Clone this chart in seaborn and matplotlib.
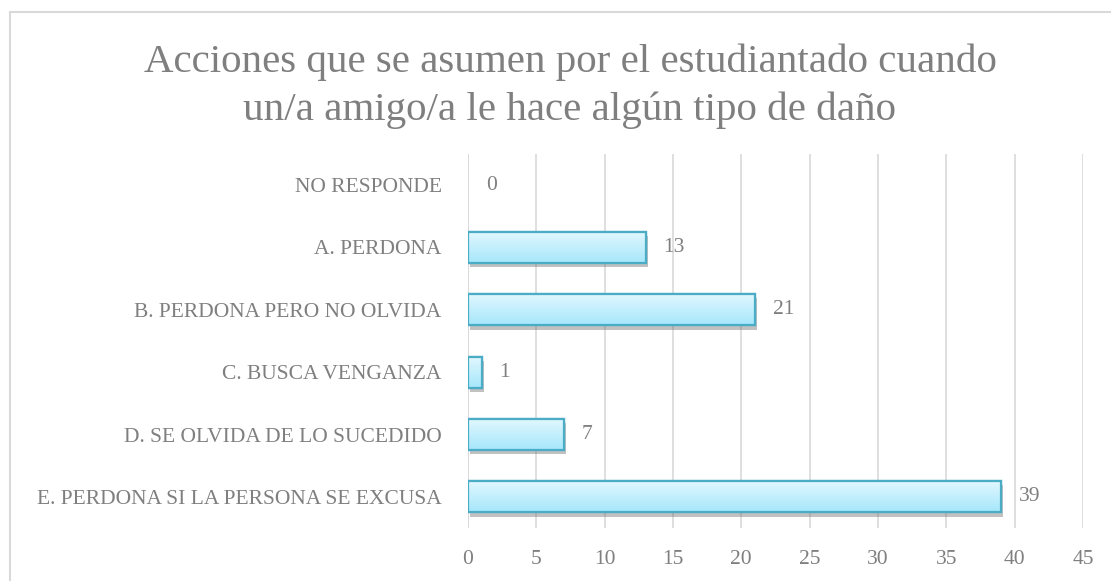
import numpy as np
import pandas as pd
import matplotlib
matplotlib.use('Agg')
import matplotlib.pyplot as plt
import matplotlib.patheffects as pe
from matplotlib.patches import Rectangle
import seaborn as sns

# Data
categories = ['NO RESPONDE', 'A. PERDONA', 'B. PERDONA PERO NO OLVIDA',
              'C. BUSCA VENGANZA', 'D. SE OLVIDA DE LO SUCEDIDO',
              'E. PERDONA SI LA PERSONA SE EXCUSA']
values = [0, 13, 21, 1, 7, 39]
x_ticks = [0, 5, 10, 15, 20, 25, 30, 35, 40, 45]
title = 'Acciones que se asumen por el estudiantado cuando\nun/a amigo/a le hace algún tipo de daño'

df = pd.DataFrame({'categoria': categories, 'valor': values})

sns.set_style('white')
plt.rcParams['font.family'] = ['Liberation Serif', 'DejaVu Serif']
gray = '#7f7f7f'

fig = plt.figure(figsize=(11.11, 5.81), dpi=100)
ax = fig.add_axes([0.4212, 0.0912, 0.5536, 0.6438])

sns.barplot(data=df, x='valor', y='categoria', order=categories, orient='h',
            width=0.5, color='#c4f0fc', edgecolor='#4bacc6', linewidth=1.6, ax=ax)

# gradient fill + shadow on each bar
grad = np.linspace(0, 1, 64).reshape(-1, 1)
cmap = matplotlib.colors.LinearSegmentedColormap.from_list('g', ['#e2f8fe', '#a6e7fb'])
for p in ax.patches:
    w = p.get_width()
    if w <= 0:
        p.set_visible(False)
        continue
    x0, y0, h = p.get_x(), p.get_y(), p.get_height()
    p.set_path_effects([pe.SimplePatchShadow(offset=(1.5, -3), shadow_rgbFace='#666666', alpha=0.4),
                        pe.Normal()])
    im = ax.imshow(grad, extent=(x0, x0 + w, y0 + h, y0), cmap=cmap, aspect='auto', zorder=p.get_zorder() + 0.1)
    im.set_clip_path(p)
    edge = Rectangle((x0, y0), w, h, fill=False, edgecolor='#4bacc6', linewidth=1.6,
                     zorder=p.get_zorder() + 0.2)
    ax.add_patch(edge)

for i, v in enumerate(values):
    ax.text(v + 1.3, i, str(v), va='center', ha='left', fontsize=15.5, color=gray)

ax.set_xlim(0, 45)
ax.set_ylim(len(categories) - 0.5, -0.5)
ax.set_xticks(x_ticks)
ax.xaxis.grid(True, color='#d9d9d9', linewidth=1.2)
ax.set_axisbelow(True)
for s in ax.spines.values():
    s.set_visible(False)
ax.axvline(0, color='#d9d9d9', linewidth=1.2, zorder=0)
ax.tick_params(axis='both', length=0, labelsize=15.5, labelcolor=gray)
ax.tick_params(axis='y', pad=19)
ax.tick_params(axis='x', pad=16)
ax.set_xlabel('')
ax.set_ylabel('')

fig.text(0.513, 0.925, title, ha='center', va='top', fontsize=29.5, color=gray, linespacing=1.35)

# chart border
fig.patches.append(Rectangle((10 / 1111, -0.1), 1.2, 1 - 12 / 581 + 0.1, transform=fig.transFigure,
                             fill=False, edgecolor='#d9d9d9', linewidth=1.5))

fig.savefig('out.png', dpi=100)
